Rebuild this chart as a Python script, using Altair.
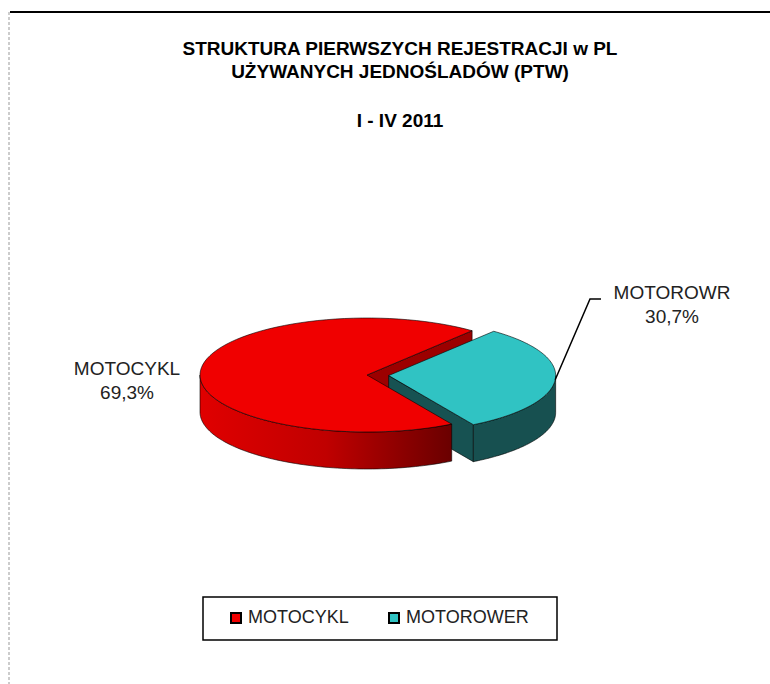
import math
import altair as alt
import pandas as pd

# ---------------- data ----------------
categories = ["MOTOCYKL", "MOTOROWER"]
shares = [69.3, 30.7]
slice_labels = ["MOTOCYKL", "MOTOROWR"]
share_text = ["69,3%", "30,7%"]
title_lines = ["STRUKTURA PIERWSZYCH REJESTRACJI w PL", "UŻYWANYCH JEDNOŚLADÓW (PTW)", "I - IV 2011"]

# ---------------- style / layout ----------------
W, H = 770, 684
FONT = "Liberation Sans"
TOP_COLORS = ["#F00000", "#30C3C3"]
FACE_COLORS = ["#9C0000", "#175252"]
WALL_TEAL = "#175050"
CX, CY, A, B, DEPTH = 367, 375, 167, 57, 37
START_ANGLE = 51          # degrees, counter-clockwise from east
EXPLODE = [0.0, 0.13]
N = 80
TITLE_Y = [55, 78, 127]
TITLE_X = 400
LABEL_POS = [(127, 375), (672, 299)]
LEADER_ELBOW = [(590, 299), (601, 299)]

tops, walls, faces = [], [], []
rims = []
total = sum(shares)
ang = START_ANGLE
for k, (cat, v) in enumerate(zip(categories, shares)):
    s = ang
    e = ang + 360.0 * v / total
    ang = e
    mid = math.radians((s + e) / 2)
    ox = CX + EXPLODE[k] * A * math.cos(mid)
    oy = CY - EXPLODE[k] * B * math.sin(mid)

    def P(t_deg, dz=0.0):
        t = math.radians(t_deg)
        return ox + A * math.cos(t), oy - B * math.sin(t) + dz

    rims.append(P((s + e) / 2))
    # top face
    pts = [(ox, oy)] + [P(s + (e - s) * j / N) for j in range(N + 1)] + [(ox, oy)]
    for i, (x, y) in enumerate(pts):
        tops.append({"cat": cat, "i": i, "x": x, "y": y})
    # front wall (visible part: 180..360 mod 360)
    for base in (0, 360):
        lo, hi = max(s, 180 + base), min(e, 360 + base)
        if hi > lo:
            for j in range(N + 1):
                t = lo + (hi - lo) * j / N
                x, y = P(t)
                walls.append({"cat": cat, "i": j, "x": x, "y": y, "y2": y + DEPTH})
    # cut faces facing the viewer
    for t_deg, vis in ((s, math.cos(math.radians(s)) > 0), (e, math.cos(math.radians(e)) < 0)):
        if vis:
            rx, ry = P(t_deg)
            quad = [(ox, oy), (rx, ry), (rx, ry + DEPTH), (ox, oy + DEPTH), (ox, oy)]
            for i, (x, y) in enumerate(quad):
                faces.append({"poly": f"{cat}{t_deg:.1f}", "col": FACE_COLORS[k], "i": i, "x": x, "y": y})

tops_df = pd.DataFrame(tops)
walls_df = pd.DataFrame(walls)
faces_df = pd.DataFrame(faces)

X = alt.X("x:Q", scale=alt.Scale(domain=[0, W], nice=False, zero=False), axis=None)
Y = alt.Y("y:Q", scale=alt.Scale(domain=[H, 0], nice=False, zero=False), axis=None, stack=None)

faces_layer = alt.Chart(faces_df).mark_line(stroke="black", strokeWidth=0.6).encode(
    x=X, y=Y, detail="poly:N", order="i:Q",
    fill=alt.Fill("col:N", scale=None),
)

teal_wall = alt.Chart(walls_df).transform_filter(
    alt.datum.cat == categories[1]
).mark_area(fill=WALL_TEAL, stroke="black", strokeWidth=0.6).encode(
    x=X, y=Y, y2="y2:Q"
)

red_wall = alt.Chart(walls_df).transform_filter(
    alt.datum.cat == categories[0]
).mark_area(
    fill=alt.Gradient(gradient="linear", x1=0, x2=1, y1=0, y2=0,
                      stops=[alt.GradientStop(color="#E00000", offset=0),
                             alt.GradientStop(color="#C00000", offset=0.5),
                             alt.GradientStop(color="#6A0000", offset=1)]),
    stroke="black", strokeWidth=0.6,
).encode(x=X, y=Y, y2="y2:Q")

teal_top = alt.Chart(tops_df).transform_filter(
    alt.datum.cat == categories[1]
).mark_line(fill=TOP_COLORS[1], stroke="black", strokeWidth=0.6).encode(
    x=X, y=Y, order="i:Q"
)

red_top = alt.Chart(tops_df).transform_filter(
    alt.datum.cat == categories[0]
).mark_line(fill=TOP_COLORS[0], stroke="black", strokeWidth=0.6).encode(
    x=X, y=Y, order="i:Q"
)

# legend via invisible points carrying the fill scale
legend_df = pd.DataFrame({"cat": categories, "x": [0, 0], "y": [0, 0]})
legend_layer = alt.Chart(legend_df).mark_point(shape="square", size=0, filled=True, opacity=0).encode(
    x=X, y=Y,
    fill=alt.Fill("cat:N", scale=alt.Scale(domain=categories, range=TOP_COLORS),
                  legend=alt.Legend(orient="none", legendX=227, legendY=609, direction="horizontal",
                                    title=None, symbolType="square", symbolSize=100,
                                    symbolStrokeColor="black", symbolStrokeWidth=2, symbolOpacity=1,
                                    labelFont=FONT, labelFontSize=18, labelColor="#222",
                                    labelOffset=3, columnPadding=36, padding=0)),
)

legend_box = alt.Chart(pd.DataFrame({"a": [0]})).mark_rect(
    fill="white", stroke="black", strokeWidth=1.5
).encode(x=alt.value(203), x2=alt.value(557), y=alt.value(597), y2=alt.value(640))

# leader line
lx, ly = rims[1]
leader_df = pd.DataFrame({"i": [0, 1, 2],
                          "x": [lx, LEADER_ELBOW[0][0], LEADER_ELBOW[1][0]],
                          "y": [ly, LEADER_ELBOW[0][1], LEADER_ELBOW[1][1]]})
leader = alt.Chart(leader_df).mark_line(color="black", strokeWidth=1.5).encode(x=X, y=Y, order="i:Q")

labels_df = pd.DataFrame({
    "text": [f"{n}\n{p}" for n, p in zip(slice_labels, share_text)],
    "x": [p[0] for p in LABEL_POS],
    "y": [p[1] for p in LABEL_POS],
})
labels = alt.Chart(labels_df).mark_text(
    font=FONT, fontSize=19, color="#222", align="center", baseline="alphabetic",
    lineBreak="\n", lineHeight=24,
).encode(x=X, y=Y, text="text:N")

title_df = pd.DataFrame({"text": title_lines, "x": [TITLE_X] * 3, "y": TITLE_Y})
title = alt.Chart(title_df).mark_text(
    font=FONT, fontSize=19, fontWeight="bold", color="black", align="center", baseline="alphabetic"
).encode(x=X, y=Y, text="text:N")

frame_top = alt.Chart(pd.DataFrame({"a": [0]})).mark_rule(color="black", strokeWidth=2).encode(
    x=alt.value(10), x2=alt.value(W), y=alt.value(12))
frame_left = alt.Chart(pd.DataFrame({"a": [0]})).mark_rule(color="#999", strokeWidth=1, strokeDash=[3, 2]).encode(
    x=alt.value(9), y=alt.value(12), y2=alt.value(H))

chart = alt.layer(
    frame_top, frame_left,
    faces_layer, teal_wall, teal_top, red_wall, red_top,
    leader, labels, title, legend_box, legend_layer,
).properties(
    width=W, height=H, padding=0, autosize=alt.AutoSizeParams(type="none"), background="white"
).configure_view(stroke=None)

chart.save("out.html", embed_options={"renderer": "svg", "actions": False})
